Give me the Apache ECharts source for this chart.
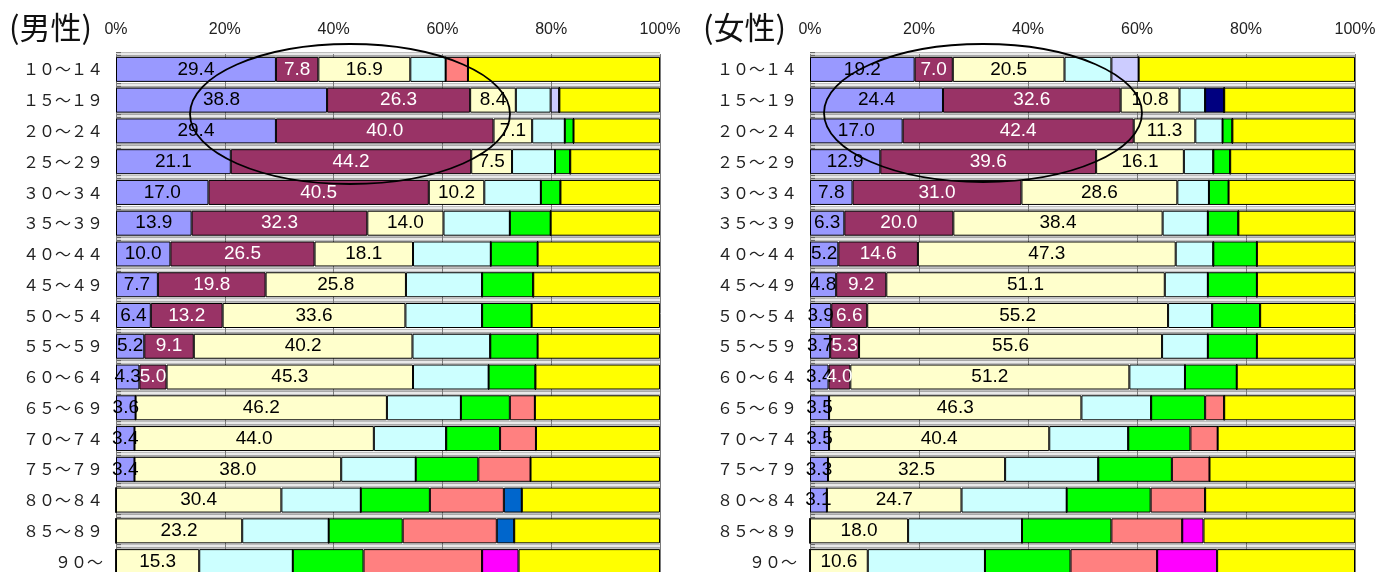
<!DOCTYPE html>
<html>
<head>
<meta charset="utf-8">
<script src="https://cdn.jsdelivr.net/npm/echarts@6/dist/echarts.min.js"></script>
<style>
  html, body { margin: 0; padding: 0; background: #fff; }
  #chart { width: 1380px; height: 572px; }
</style>
</head>
<body>
<div id="chart"></div>
<script>
// Age groups, top to bottom
const ageGroups = ['１０～１４', '１５～１９', '２０～２４', '２５～２９', '３０～３４', '３５～３９',
  '４０～４４', '４５～４９', '５０～５４', '５５～５９', '６０～６４', '６５～６９',
  '７０～７４', '７５～７９', '８０～８４', '８５～８９', '９０～'];

// Panel titles
const panelTitles = ['(男性)', '(女性)'];

// Male shares (%), segments in left-to-right order
const maleSeg1 = [29.4, 38.8, 29.4, 21.1, 17.0, 13.9, 10.0, 7.7, 6.4, 5.2, 4.3, 3.6, 3.4, 3.4, 0, 0, 0];
const maleSeg2 = [7.8, 26.3, 40.0, 44.2, 40.5, 32.3, 26.5, 19.8, 13.2, 9.1, 5.0, 0, 0, 0, 0, 0, 0];
const maleSeg3 = [16.9, 8.4, 7.1, 7.5, 10.2, 14.0, 18.1, 25.8, 33.6, 40.2, 45.3, 46.2, 44.0, 38.0, 30.4, 23.2, 15.3];
const maleSeg4 = [6.5, 6.4, 6.0, 7.9, 10.4, 12.2, 14.3, 14.0, 14.1, 14.3, 13.9, 13.6, 13.3, 13.7, 14.6, 15.9, 17.2];
const maleSeg5 = [0, 1.6, 0, 0, 0, 0, 0, 0, 0, 0, 0, 0, 0, 0, 0, 0, 0];
const maleSeg6 = [0, 0, 0, 0, 0, 0, 0, 0, 0, 0, 0, 0, 0, 0, 0, 0, 0];
const maleSeg7 = [0, 0, 1.6, 2.8, 3.6, 7.5, 8.6, 9.4, 9.1, 8.7, 8.6, 9.0, 9.9, 11.5, 12.7, 13.6, 13.0];
const maleSeg8 = [4.1, 0, 0, 0, 0, 0, 0, 0, 0, 0, 0, 4.6, 6.6, 9.6, 13.6, 17.3, 21.8];
const maleSeg9 = [0, 0, 0, 0, 0, 0, 0, 0, 0, 0, 0, 0, 0, 0, 3.3, 3.2, 0];
const maleSeg10 = [0, 0, 0, 0, 0, 0, 0, 0, 0, 0, 0, 0, 0, 0, 0, 0, 6.7];
const maleSeg11 = [35.3, 18.5, 15.9, 16.5, 18.3, 20.1, 22.5, 23.3, 23.6, 22.5, 22.9, 23.0, 22.8, 23.8, 25.4, 26.8, 26.0];

// Female shares (%), segments in left-to-right order
const femaleSeg1 = [19.2, 24.4, 17.0, 12.9, 7.8, 6.3, 5.2, 4.8, 3.9, 3.7, 3.4, 3.5, 3.5, 3.3, 3.1, 0, 0];
const femaleSeg2 = [7.0, 32.6, 42.4, 39.6, 31.0, 20.0, 14.6, 9.2, 6.6, 5.3, 4.0, 0, 0, 0, 0, 0, 0];
const femaleSeg3 = [20.5, 10.8, 11.3, 16.1, 28.6, 38.4, 47.3, 51.1, 55.2, 55.6, 51.2, 46.3, 40.4, 32.5, 24.7, 18.0, 10.6];
const femaleSeg4 = [8.6, 4.7, 5.0, 5.4, 5.8, 8.3, 6.9, 7.9, 8.1, 8.4, 10.2, 12.8, 14.5, 17.1, 19.3, 20.9, 21.5];
const femaleSeg5 = [5.0, 0, 0, 0, 0, 0, 0, 0, 0, 0, 0, 0, 0, 0, 0, 0, 0];
const femaleSeg6 = [0, 3.5, 0, 0, 0, 0, 0, 0, 0, 0, 0, 0, 0, 0, 0, 0, 0];
const femaleSeg7 = [0, 0, 1.8, 3.1, 3.6, 5.6, 8.0, 9.0, 8.8, 9.0, 9.5, 9.9, 11.4, 13.5, 15.4, 16.4, 15.7];
const femaleSeg8 = [0, 0, 0, 0, 0, 0, 0, 0, 0, 0, 0, 3.5, 5.0, 6.9, 10.0, 13.0, 15.9];
const femaleSeg9 = [0, 0, 0, 0, 0, 0, 0, 0, 0, 0, 0, 0, 0, 0, 0, 0, 0];
const femaleSeg10 = [0, 0, 0, 0, 0, 0, 0, 0, 0, 0, 0, 0, 0, 0, 0, 3.9, 11.0];
const femaleSeg11 = [39.7, 24.0, 22.5, 22.9, 23.2, 21.4, 18.0, 18.0, 17.4, 18.0, 21.7, 24.0, 25.2, 26.7, 27.5, 27.8, 25.3];

const maleSegs = [maleSeg1, maleSeg2, maleSeg3, maleSeg4, maleSeg5, maleSeg6, maleSeg7, maleSeg8, maleSeg9, maleSeg10, maleSeg11];
const femaleSegs = [femaleSeg1, femaleSeg2, femaleSeg3, femaleSeg4, femaleSeg5, femaleSeg6, femaleSeg7, femaleSeg8, femaleSeg9, femaleSeg10, femaleSeg11];

const segColors = ['#9999FF', '#993366', '#FFFFCC', '#CCFFFF', '#CCCCFF', '#000080',
  '#00FF00', '#FF8080', '#0066CC', '#FF00FF', '#FFFF00'];
// Only the first three segments carry value labels
const labelColors = ['#000', '#fff', '#000'];

const chart = echarts.init(document.getElementById('chart'));

const latin = "'Liberation Sans', Arial, sans-serif";
const cjk = "'Noto Sans CJK JP', sans-serif";

const grids = [
  { left: 116, width: 544, top: 54, height: 523, outerBoundsMode: 'none' },
  { left: 810, width: 545, top: 54, height: 523, outerBoundsMode: 'none' }
];

const xAxes = grids.map((g, i) => ({
  gridIndex: i,
  type: 'value',
  position: 'top',
  min: 0, max: 100, interval: 20,
  z: 1,
  axisLine: { show: false },
  axisTick: { show: false },
  axisLabel: {
    formatter: '{value}%', fontFamily: latin, fontSize: 16, color: '#222', margin: 16
  },
  splitLine: { show: true, lineStyle: { color: '#7a7a7a', width: 1 } }
}));

const yAxes = [];
grids.forEach((g, i) => {
  // gray band between rows
  yAxes.push({
    gridIndex: i,
    type: 'category',
    data: ageGroups,
    inverse: true,
    position: 'left',
    axisLine: { show: true, lineStyle: { color: '#000', width: 1 } },
    axisTick: { show: true, inside: true, length: 5, lineStyle: { color: '#666', width: 4 } },
    axisLabel: { fontFamily: cjk, fontSize: 16, color: '#222', margin: 13 },
    splitLine: { show: true, lineStyle: { color: '#a8a8a8', width: 4.5 } }
  });
  // white center of the band
  yAxes.push({
    gridIndex: i,
    type: 'category',
    data: ageGroups,
    inverse: true,
    position: 'left',
    axisLine: { show: false },
    axisTick: { show: true, inside: true, length: 5, lineStyle: { color: '#fff', width: 1.5 } },
    axisLabel: { show: false },
    splitLine: { show: true, lineStyle: { color: '#fff', width: 1.5 } }
  });
});

function buildSeries(segs, gi, stackName) {
  return segs.map((vals, k) => ({
    type: 'bar',
    name: stackName + (k + 1),
    stack: stackName,
    xAxisIndex: gi,
    yAxisIndex: gi * 2,
    barWidth: 25,
    data: vals,
    itemStyle: { color: segColors[k], borderColor: '#000', borderWidth: 1 },
    label: {
      show: k < 3,
      position: 'inside',
      fontFamily: latin,
      fontSize: 19,
      color: labelColors[k] || '#000',
      textBorderWidth: 0,
      formatter: p => (p.value > 0 ? p.value.toFixed(1) : '')
    },
    emphasis: { disabled: true },
    animation: false
  }));
}

const titleStyle = { fontFamily: cjk, fontSize: 31, fontWeight: 'normal', color: '#111' };

const option = {
  animation: false,
  backgroundColor: '#fff',
  title: [
    { text: panelTitles[0], left: 4, top: 7, textStyle: titleStyle },
    { text: panelTitles[1], left: 698, top: 7, textStyle: titleStyle }
  ],
  grid: grids,
  xAxis: xAxes,
  yAxis: yAxes,
  series: [...buildSeries(maleSegs, 0, 'male'), ...buildSeries(femaleSegs, 1, 'female')],
  graphic: [
    { type: 'ellipse', z: 100, silent: true, shape: { cx: 350, cy: 114, rx: 160, ry: 70 },
      style: { fill: 'none', stroke: '#000', lineWidth: 1.8 } },
    { type: 'ellipse', z: 100, silent: true, shape: { cx: 983, cy: 113, rx: 159, ry: 69 },
      style: { fill: 'none', stroke: '#000', lineWidth: 1.8 } }
  ]
};

chart.setOption(option);
</script>
</body>
</html>
